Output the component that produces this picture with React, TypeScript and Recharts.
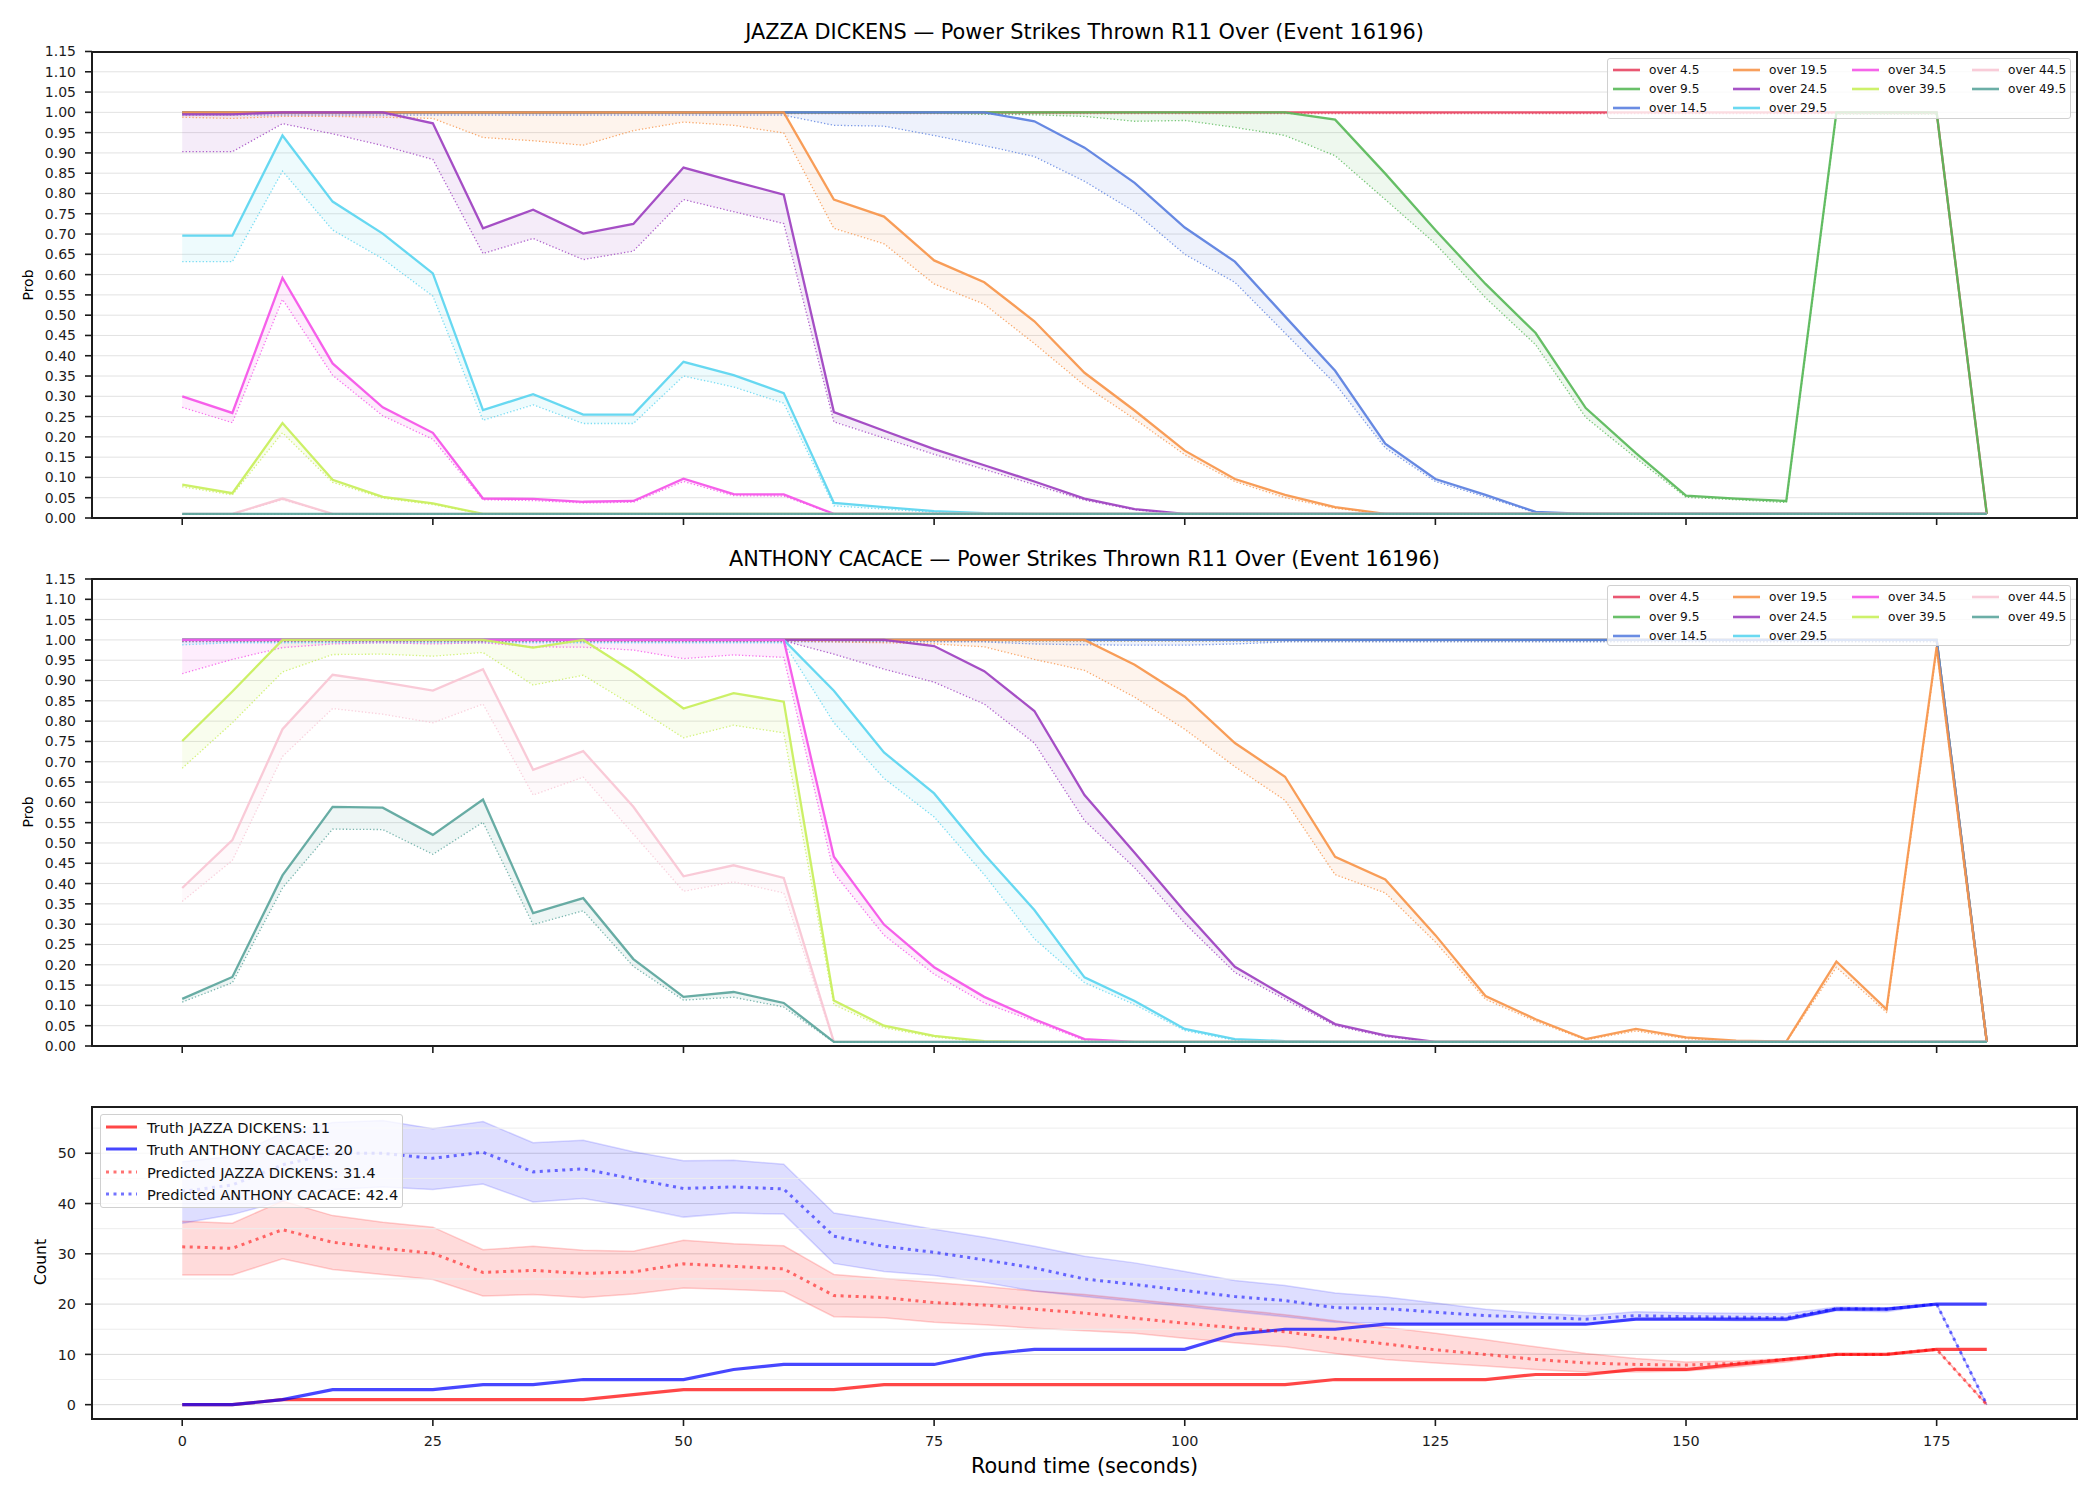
import React from "react";
import {
  ComposedChart,
  Line,
  Area,
  XAxis,
  YAxis,
  CartesianGrid,
  ReferenceLine,
} from "recharts";

const FONT = "'DejaVu Sans', 'Liberation Sans', sans-serif";

// round time in seconds, one sample every 5 s
const times = [
  0, 5, 10, 15, 20, 25, 30, 35, 40, 45,
  50, 55, 60, 65, 70, 75, 80, 85, 90, 95,
  100, 105, 110, 115, 120, 125, 130, 135, 140, 145,
  150, 155, 160, 165, 170, 175, 180,
];
const timeTicks = [0, 25, 50, 75, 100, 125, 150, 175];
const probTicks = [
  0, 0.05, 0.1, 0.15, 0.2, 0.25, 0.3, 0.35, 0.4, 0.45, 0.5, 0.55,
  0.6, 0.65, 0.7, 0.75, 0.8, 0.85, 0.9, 0.95, 1, 1.05, 1.1, 1.15,
];
const countTicks = [0, 10, 20, 30, 40, 50];
const countMinorTicks = [5, 15, 25, 35, 45, 55];

const lineLabels = [
  "over 4.5", "over 9.5", "over 14.5", "over 19.5", "over 24.5",
  "over 29.5", "over 34.5", "over 39.5", "over 44.5", "over 49.5",
];
const lineColors = [
  "#e84563", "#59b959", "#5a7fe0", "#f7954a", "#9d40c0",
  "#5ad5f0", "#f553e8", "#c8ef5a", "#f8c6d4", "#5ba59c",
];

// ---- JAZZA DICKENS: P(strikes > line), solid = estimate, Lo = lower curve
const dickensOver4_5 = [
  1, 1, 1, 1, 1, 1, 1, 1, 1, 1,
  1, 1, 1, 1, 1, 1, 1, 1, 1, 1,
  1, 1, 1, 1, 1, 1, 1, 1, 1, 1,
  1, 1, 1, 1, 1, 1, 0.01,
];
const dickensOver4_5Lo = [
  0.997, 0.997, 0.997, 0.997, 0.997, 0.997, 0.997, 0.997, 0.997, 0.997,
  0.997, 0.997, 0.997, 0.997, 0.997, 0.997, 0.997, 0.997, 0.997, 0.997,
  0.997, 0.997, 0.997, 0.997, 0.997, 0.997, 0.997, 0.997, 0.997, 0.997,
  0.997, 0.997, 0.997, 0.997, 0.997, 0.997, 0.01,
];
const dickensOver9_5 = [
  1, 1, 1, 1, 1, 1, 1, 1, 1, 1,
  1, 1, 1, 1, 1, 1, 1, 1, 1, 1,
  1, 1, 1, 0.982, 0.849, 0.71, 0.577, 0.456, 0.271, 0.16,
  0.055, 0.048, 0.042, 1, 1, 1, 0.01,
];
const dickensOver9_5Lo = [
  0.998, 0.998, 0.998, 0.998, 0.998, 0.998, 0.998, 0.998, 0.998, 0.998,
  0.998, 0.998, 0.998, 0.998, 0.998, 0.998, 0.995, 0.994, 0.99, 0.978,
  0.98, 0.963, 0.943, 0.893, 0.785, 0.676, 0.543, 0.427, 0.248, 0.148,
  0.051, 0.045, 0.038, 0.995, 0.995, 0.995, 0.01,
];
const dickensOver14_5 = [
  1, 1, 1, 1, 1, 1, 1, 1, 1, 1,
  1, 1, 1, 1, 1, 1, 1, 0.978, 0.913, 0.826,
  0.716, 0.632, 0.497, 0.363, 0.183, 0.096, 0.057, 0.015, 0.01, 0.01,
  0.01, 0.01, 0.01, 0.01, 0.01, 0.01, 0.01,
];
const dickensOver14_5Lo = [
  0.993, 0.993, 0.993, 0.993, 0.993, 0.993, 0.993, 0.993, 0.993, 0.993,
  0.993, 0.993, 0.993, 0.968, 0.966, 0.943, 0.918, 0.891, 0.83, 0.755,
  0.65, 0.581, 0.456, 0.331, 0.173, 0.09, 0.052, 0.013, 0.01, 0.01,
  0.01, 0.01, 0.01, 0.01, 0.01, 0.01, 0.01,
];
const dickensOver19_5 = [
  1, 1, 1, 1, 1, 1, 1, 1, 1, 1,
  1, 1, 1, 0.785, 0.743, 0.635, 0.581, 0.485, 0.358, 0.265,
  0.166, 0.096, 0.057, 0.027, 0.01, 0.01, 0.01, 0.01, 0.01, 0.01,
  0.01, 0.01, 0.01, 0.01, 0.01, 0.01, 0.01,
];
const dickensOver19_5Lo = [
  0.988, 0.985, 0.99, 0.99, 0.988, 0.985, 0.938, 0.93, 0.919, 0.955,
  0.976, 0.968, 0.949, 0.714, 0.676, 0.577, 0.527, 0.43, 0.327, 0.244,
  0.156, 0.09, 0.05, 0.024, 0.01, 0.01, 0.01, 0.01, 0.01, 0.01,
  0.01, 0.01, 0.01, 0.01, 0.01, 0.01, 0.01,
];
const dickensOver24_5 = [
  0.995, 0.995, 1, 1, 1, 0.973, 0.714, 0.76, 0.701, 0.725,
  0.864, 0.83, 0.797, 0.261, 0.215, 0.17, 0.13, 0.09, 0.048, 0.022,
  0.01, 0.01, 0.01, 0.01, 0.01, 0.01, 0.01, 0.01, 0.01, 0.01,
  0.01, 0.01, 0.01, 0.01, 0.01, 0.01, 0.01,
];
const dickensOver24_5Lo = [
  0.903, 0.903, 0.972, 0.947, 0.918, 0.884, 0.652, 0.689, 0.637, 0.658,
  0.785, 0.755, 0.726, 0.237, 0.197, 0.157, 0.12, 0.082, 0.044, 0.02,
  0.01, 0.01, 0.01, 0.01, 0.01, 0.01, 0.01, 0.01, 0.01, 0.01,
  0.01, 0.01, 0.01, 0.01, 0.01, 0.01, 0.01,
];
const dickensOver29_5 = [
  0.696, 0.696, 0.943, 0.78, 0.701, 0.603, 0.266, 0.305, 0.255, 0.255,
  0.385, 0.352, 0.308, 0.037, 0.027, 0.017, 0.012, 0.01, 0.01, 0.01,
  0.01, 0.01, 0.01, 0.01, 0.01, 0.01, 0.01, 0.01, 0.01, 0.01,
  0.01, 0.01, 0.01, 0.01, 0.01, 0.01, 0.01,
];
const dickensOver29_5Lo = [
  0.632, 0.632, 0.855, 0.71, 0.639, 0.547, 0.241, 0.279, 0.233, 0.233,
  0.35, 0.323, 0.283, 0.03, 0.022, 0.014, 0.01, 0.01, 0.01, 0.01,
  0.01, 0.01, 0.01, 0.01, 0.01, 0.01, 0.01, 0.01, 0.01, 0.01,
  0.01, 0.01, 0.01, 0.01, 0.01, 0.01, 0.01,
];
const dickensOver34_5 = [
  0.3, 0.259, 0.592, 0.381, 0.273, 0.21, 0.048, 0.047, 0.04, 0.042,
  0.097, 0.059, 0.058, 0.01, 0.01, 0.01, 0.01, 0.01, 0.01, 0.01,
  0.01, 0.01, 0.01, 0.01, 0.01, 0.01, 0.01, 0.01, 0.01, 0.01,
  0.01, 0.01, 0.01, 0.01, 0.01, 0.01, 0.01,
];
const dickensOver34_5Lo = [
  0.273, 0.235, 0.539, 0.352, 0.252, 0.194, 0.045, 0.043, 0.037, 0.039,
  0.09, 0.055, 0.054, 0.01, 0.01, 0.01, 0.01, 0.01, 0.01, 0.01,
  0.01, 0.01, 0.01, 0.01, 0.01, 0.01, 0.01, 0.01, 0.01, 0.01,
  0.01, 0.01, 0.01, 0.01, 0.01, 0.01, 0.01,
];
const dickensOver39_5 = [
  0.082, 0.061, 0.234, 0.094, 0.052, 0.036, 0.01, 0.01, 0.01, 0.01,
  0.01, 0.01, 0.01, 0.01, 0.01, 0.01, 0.01, 0.01, 0.01, 0.01,
  0.01, 0.01, 0.01, 0.01, 0.01, 0.01, 0.01, 0.01, 0.01, 0.01,
  0.01, 0.01, 0.01, 0.01, 0.01, 0.01, 0.01,
];
const dickensOver39_5Lo = [
  0.077, 0.057, 0.21, 0.088, 0.049, 0.033, 0.01, 0.01, 0.01, 0.01,
  0.01, 0.01, 0.01, 0.01, 0.01, 0.01, 0.01, 0.01, 0.01, 0.01,
  0.01, 0.01, 0.01, 0.01, 0.01, 0.01, 0.01, 0.01, 0.01, 0.01,
  0.01, 0.01, 0.01, 0.01, 0.01, 0.01, 0.01,
];
const dickensOver44_5 = [
  0.01, 0.01, 0.048, 0.01, 0.01, 0.01, 0.01, 0.01, 0.01, 0.01,
  0.01, 0.01, 0.01, 0.01, 0.01, 0.01, 0.01, 0.01, 0.01, 0.01,
  0.01, 0.01, 0.01, 0.01, 0.01, 0.01, 0.01, 0.01, 0.01, 0.01,
  0.01, 0.01, 0.01, 0.01, 0.01, 0.01, 0.01,
];
const dickensOver44_5Lo = [
  0.01, 0.01, 0.045, 0.01, 0.01, 0.01, 0.01, 0.01, 0.01, 0.01,
  0.01, 0.01, 0.01, 0.01, 0.01, 0.01, 0.01, 0.01, 0.01, 0.01,
  0.01, 0.01, 0.01, 0.01, 0.01, 0.01, 0.01, 0.01, 0.01, 0.01,
  0.01, 0.01, 0.01, 0.01, 0.01, 0.01, 0.01,
];
const dickensOver49_5 = [
  0.01, 0.01, 0.01, 0.01, 0.01, 0.01, 0.01, 0.01, 0.01, 0.01,
  0.01, 0.01, 0.01, 0.01, 0.01, 0.01, 0.01, 0.01, 0.01, 0.01,
  0.01, 0.01, 0.01, 0.01, 0.01, 0.01, 0.01, 0.01, 0.01, 0.01,
  0.01, 0.01, 0.01, 0.01, 0.01, 0.01, 0.01,
];
const dickensOver49_5Lo = [
  0.009, 0.009, 0.009, 0.009, 0.009, 0.009, 0.009, 0.009, 0.009, 0.009,
  0.009, 0.009, 0.009, 0.009, 0.009, 0.009, 0.009, 0.009, 0.009, 0.009,
  0.009, 0.009, 0.009, 0.009, 0.009, 0.009, 0.009, 0.009, 0.009, 0.009,
  0.009, 0.009, 0.009, 0.009, 0.009, 0.009, 0.009,
];

// ---- ANTHONY CACACE
const cacaceOver4_5 = [
  1, 1, 1, 1, 1, 1, 1, 1, 1, 1,
  1, 1, 1, 1, 1, 1, 1, 1, 1, 1,
  1, 1, 1, 1, 1, 1, 1, 1, 1, 1,
  1, 1, 1, 1, 1, 1, 0.01,
];
const cacaceOver4_5Lo = [
  0.998, 0.998, 0.998, 0.998, 0.998, 0.998, 0.998, 0.998, 0.998, 0.998,
  0.998, 0.998, 0.998, 0.998, 0.998, 0.998, 0.998, 0.998, 0.998, 0.998,
  0.998, 0.998, 0.998, 0.998, 0.998, 0.998, 0.998, 0.998, 0.998, 0.998,
  0.998, 0.998, 0.998, 0.998, 0.998, 0.998, 0.01,
];
const cacaceOver9_5 = [
  1, 1, 1, 1, 1, 1, 1, 1, 1, 1,
  1, 1, 1, 1, 1, 1, 1, 1, 1, 1,
  1, 1, 1, 1, 1, 1, 1, 1, 1, 1,
  1, 1, 1, 1, 1, 1, 0.01,
];
const cacaceOver9_5Lo = [
  0.998, 0.998, 0.998, 0.998, 0.998, 0.998, 0.998, 0.998, 0.998, 0.998,
  0.998, 0.998, 0.998, 0.998, 0.998, 0.998, 0.998, 0.998, 0.998, 0.998,
  0.998, 0.998, 0.998, 0.998, 0.998, 0.998, 0.998, 0.998, 0.998, 0.998,
  0.998, 0.998, 0.998, 0.998, 0.998, 0.998, 0.01,
];
const cacaceOver14_5 = [
  1, 1, 1, 1, 1, 1, 1, 1, 1, 1,
  1, 1, 1, 1, 1, 1, 1, 1, 1, 1,
  1, 1, 1, 1, 1, 1, 1, 1, 1, 1,
  1, 1, 1, 1, 1, 1, 0.01,
];
const cacaceOver14_5Lo = [
  0.995, 0.995, 0.995, 0.995, 0.995, 0.995, 0.995, 0.995, 0.995, 0.995,
  0.995, 0.995, 0.995, 0.995, 0.995, 0.995, 0.995, 0.99, 0.988, 0.987,
  0.987, 0.99, 0.995, 0.995, 0.995, 0.995, 0.995, 0.995, 0.995, 0.995,
  0.995, 0.995, 0.995, 0.995, 0.995, 0.995, 0.01,
];
const cacaceOver19_5 = [
  1, 1, 1, 1, 1, 1, 1, 1, 1, 1,
  1, 1, 1, 1, 1, 1, 1, 1, 1, 0.939,
  0.86, 0.746, 0.663, 0.466, 0.41, 0.273, 0.123, 0.066, 0.017, 0.042,
  0.021, 0.013, 0.011, 0.208, 0.09, 0.983, 0.01,
];
const cacaceOver19_5Lo = [
  0.998, 0.998, 0.998, 0.998, 0.998, 0.998, 0.998, 0.998, 0.998, 0.998,
  0.998, 0.998, 0.998, 0.995, 0.993, 0.99, 0.983, 0.952, 0.925, 0.859,
  0.78, 0.688, 0.605, 0.422, 0.377, 0.256, 0.115, 0.061, 0.015, 0.037,
  0.018, 0.012, 0.01, 0.194, 0.083, 0.975, 0.01,
];
const cacaceOver24_5 = [
  1, 1, 1, 1, 1, 1, 1, 1, 1, 1,
  1, 1, 1, 1, 1, 0.985, 0.923, 0.825, 0.618, 0.476,
  0.331, 0.195, 0.123, 0.054, 0.026, 0.01, 0.01, 0.01, 0.01, 0.01,
  0.01, 0.01, 0.01, 0.01, 0.01, 0.01, 0.01,
];
const cacaceOver24_5Lo = [
  0.998, 0.998, 0.998, 0.998, 0.998, 0.998, 0.998, 0.998, 0.998, 0.998,
  0.998, 0.998, 0.998, 0.965, 0.928, 0.896, 0.842, 0.746, 0.555, 0.439,
  0.302, 0.181, 0.115, 0.05, 0.023, 0.01, 0.01, 0.01, 0.01, 0.01,
  0.01, 0.01, 0.01, 0.01, 0.01, 0.01, 0.01,
];
const cacaceOver29_5 = [
  1, 1, 1, 1, 1, 1, 1, 1, 1, 1,
  1, 1, 1, 0.875, 0.723, 0.622, 0.472, 0.335, 0.169, 0.111,
  0.042, 0.017, 0.012, 0.01, 0.01, 0.01, 0.01, 0.01, 0.01, 0.01,
  0.01, 0.01, 0.01, 0.01, 0.01, 0.01, 0.01,
];
const cacaceOver29_5Lo = [
  0.988, 0.993, 0.993, 0.993, 0.993, 0.993, 0.993, 0.993, 0.993, 0.993,
  0.993, 0.993, 0.993, 0.796, 0.659, 0.564, 0.422, 0.264, 0.156, 0.102,
  0.038, 0.014, 0.01, 0.01, 0.01, 0.01, 0.01, 0.01, 0.01, 0.01,
  0.01, 0.01, 0.01, 0.01, 0.01, 0.01, 0.01,
];
const cacaceOver34_5 = [
  1, 1, 1, 1, 1, 1, 1, 1, 1, 1,
  1, 1, 1, 0.466, 0.299, 0.194, 0.121, 0.066, 0.017, 0.01,
  0.01, 0.01, 0.01, 0.01, 0.01, 0.01, 0.01, 0.01, 0.01, 0.01,
  0.01, 0.01, 0.01, 0.01, 0.01, 0.01, 0.01,
];
const cacaceOver34_5Lo = [
  0.917, 0.952, 0.981, 0.99, 0.993, 0.99, 0.993, 0.983, 0.982, 0.975,
  0.954, 0.963, 0.957, 0.426, 0.273, 0.177, 0.106, 0.061, 0.014, 0.01,
  0.01, 0.01, 0.01, 0.01, 0.01, 0.01, 0.01, 0.01, 0.01, 0.01,
  0.01, 0.01, 0.01, 0.01, 0.01, 0.01, 0.01,
];
const cacaceOver39_5 = [
  0.751, 0.873, 1, 1, 1, 1, 1, 0.981, 1, 0.921,
  0.831, 0.869, 0.848, 0.112, 0.05, 0.025, 0.012, 0.01, 0.01, 0.01,
  0.01, 0.01, 0.01, 0.01, 0.01, 0.01, 0.01, 0.01, 0.01, 0.01,
  0.01, 0.01, 0.01, 0.01, 0.01, 0.01, 0.01,
];
const cacaceOver39_5Lo = [
  0.684, 0.796, 0.921, 0.964, 0.965, 0.96, 0.969, 0.889, 0.913, 0.838,
  0.759, 0.79, 0.771, 0.102, 0.045, 0.022, 0.01, 0.01, 0.01, 0.01,
  0.01, 0.01, 0.01, 0.01, 0.01, 0.01, 0.01, 0.01, 0.01, 0.01,
  0.01, 0.01, 0.01, 0.01, 0.01, 0.01, 0.01,
];
const cacaceOver44_5 = [
  0.389, 0.507, 0.78, 0.914, 0.896, 0.875, 0.928, 0.68, 0.726, 0.589,
  0.418, 0.445, 0.414, 0.01, 0.01, 0.01, 0.01, 0.01, 0.01, 0.01,
  0.01, 0.01, 0.01, 0.01, 0.01, 0.01, 0.01, 0.01, 0.01, 0.01,
  0.01, 0.01, 0.01, 0.01, 0.01, 0.01, 0.01,
];
const cacaceOver44_5Lo = [
  0.356, 0.457, 0.713, 0.831, 0.817, 0.796, 0.842, 0.618, 0.662, 0.522,
  0.381, 0.404, 0.377, 0.01, 0.01, 0.01, 0.01, 0.01, 0.01, 0.01,
  0.01, 0.01, 0.01, 0.01, 0.01, 0.01, 0.01, 0.01, 0.01, 0.01,
  0.01, 0.01, 0.01, 0.01, 0.01, 0.01, 0.01,
];
const cacaceOver49_5 = [
  0.116, 0.17, 0.42, 0.589, 0.587, 0.52, 0.607, 0.327, 0.364, 0.214,
  0.121, 0.133, 0.106, 0.01, 0.01, 0.01, 0.01, 0.01, 0.01, 0.01,
  0.01, 0.01, 0.01, 0.01, 0.01, 0.01, 0.01, 0.01, 0.01, 0.01,
  0.01, 0.01, 0.01, 0.01, 0.01, 0.01, 0.01,
];
const cacaceOver49_5Lo = [
  0.108, 0.156, 0.389, 0.534, 0.533, 0.472, 0.551, 0.299, 0.333, 0.196,
  0.113, 0.12, 0.096, 0.009, 0.009, 0.009, 0.009, 0.009, 0.009, 0.009,
  0.009, 0.009, 0.009, 0.009, 0.009, 0.009, 0.009, 0.009, 0.009, 0.009,
  0.009, 0.009, 0.009, 0.009, 0.009, 0.009, 0.009,
];

// ---- counts
const truthDickens = [
  0, 0, 1, 1, 1, 1, 1, 1, 1, 2,
  3, 3, 3, 3, 4, 4, 4, 4, 4, 4,
  4, 4, 4, 5, 5, 5, 5, 6, 6, 7,
  7, 8, 9, 10, 10, 11, 11,
];
const truthCacace = [
  0, 0, 1, 3, 3, 3, 4, 4, 5, 5,
  5, 7, 8, 8, 8, 8, 10, 11, 11, 11,
  11, 14, 15, 15, 16, 16, 16, 16, 16, 17,
  17, 17, 17, 19, 19, 20, 20,
];
const predDickens = [
  31.4, 31.1, 34.8, 32.3, 31.1, 30.1, 26.3, 26.7, 26.1, 26.4,
  28, 27.5, 27, 21.7, 21.3, 20.3, 19.8, 19, 18.2, 17.2,
  16.2, 15.3, 14.5, 13.2, 12.1, 10.9, 10, 9, 8.3, 8,
  7.9, 8.2, 9, 10, 10, 11, 0,
];
const predDickensHi = [
  36.5, 36.1, 40.5, 37.6, 36.3, 35.3, 30.8, 31.5, 30.7, 30.5,
  32.7, 32, 31.6, 25.9, 25.1, 24.3, 23.5, 22.6, 21.9, 20.9,
  19.9, 18.9, 17.9, 16.7, 15.4, 14.2, 12.9, 11.5, 10.2, 9.2,
  8.5, 8.7, 9.2, 10, 10, 11, 0,
];
const predDickensLo = [
  25.8, 25.8, 29, 26.9, 25.9, 24.9, 21.6, 21.9, 21.3, 22,
  23.2, 22.9, 22.5, 17.5, 17.3, 16.4, 15.9, 15.2, 14.7, 14.2,
  13.2, 12.3, 11.5, 10.2, 9, 8.3, 7.7, 7, 6.5, 6.5,
  6.7, 7.5, 8.5, 9.9, 10, 11, 0,
];
const predCacace = [
  42.4, 43.7, 47.7, 50, 50, 49, 50.2, 46.3, 46.9, 44.9,
  43, 43.3, 42.9, 33.5, 31.5, 30.3, 28.8, 27.2, 25, 23.9,
  22.7, 21.5, 20.7, 19.3, 19.1, 18.4, 17.7, 17.4, 17, 17.7,
  17.5, 17.4, 17.3, 19.1, 19, 20, 0,
];
const predCacaceHi = [
  48.3, 49.4, 54, 56.1, 56.5, 54.9, 56.3, 52.1, 52.6, 50.3,
  48.5, 48.6, 47.8, 38.1, 36.6, 34.9, 33.3, 31.5, 29.5, 28.2,
  26.5, 24.7, 23.7, 22.2, 21.4, 20.2, 19, 18.2, 17.7, 18.5,
  18.3, 18.2, 18.1, 19.4, 19.3, 20, 0,
];
const predCacaceLo = [
  36.1, 37.8, 40.5, 42.8, 43.3, 42.8, 43.9, 40.3, 41, 39.3,
  37.3, 38.1, 37.9, 28.1, 26.5, 25.7, 24.3, 22.6, 21.5, 20.5,
  19.5, 18.5, 17.5, 16.4, 16.2, 16, 16, 16, 16, 16.9,
  16.9, 16.7, 16.7, 18.7, 18.5, 20, 0,
];

const dickensMid = [
  dickensOver4_5, dickensOver9_5, dickensOver14_5, dickensOver19_5, dickensOver24_5,
  dickensOver29_5, dickensOver34_5, dickensOver39_5, dickensOver44_5, dickensOver49_5,
];
const dickensLow = [
  dickensOver4_5Lo, dickensOver9_5Lo, dickensOver14_5Lo, dickensOver19_5Lo, dickensOver24_5Lo,
  dickensOver29_5Lo, dickensOver34_5Lo, dickensOver39_5Lo, dickensOver44_5Lo, dickensOver49_5Lo,
];
const cacaceMid = [
  cacaceOver4_5, cacaceOver9_5, cacaceOver14_5, cacaceOver19_5, cacaceOver24_5,
  cacaceOver29_5, cacaceOver34_5, cacaceOver39_5, cacaceOver44_5, cacaceOver49_5,
];
const cacaceLow = [
  cacaceOver4_5Lo, cacaceOver9_5Lo, cacaceOver14_5Lo, cacaceOver19_5Lo, cacaceOver24_5Lo,
  cacaceOver29_5Lo, cacaceOver34_5Lo, cacaceOver39_5Lo, cacaceOver44_5Lo, cacaceOver49_5Lo,
];

function buildProbRows(mid: number[][], low: number[][]) {
  return times.map((t, i) => {
    const row: Record<string, number> = { t };
    mid.forEach((arr, k) => {
      row[`m${k}`] = arr[i];
      row[`l${k}`] = low[k][i];
    });
    return row;
  });
}

const dickensRows = buildProbRows(dickensMid, dickensLow);
const cacaceRows = buildProbRows(cacaceMid, cacaceLow);
const countRows = times.map((t, i) => ({
  t,
  truthD: truthDickens[i],
  truthC: truthCacace[i],
  predD: predDickens[i],
  predC: predCacace[i],
  bandD: [predDickensLo[i], predDickensHi[i]],
  bandC: [predCacaceLo[i], predCacaceHi[i]],
}));

const PLOT_LEFT = 92;
const PLOT_RIGHT = 2077;
const INK = "#1c1c1c";
const tickStyle = { fill: INK, fontSize: 14, fontFamily: FONT };

function Frame({ top, bottom }: { top: number; bottom: number }) {
  return (
    <div
      style={{
        position: "absolute",
        left: PLOT_LEFT - 1,
        top: top - 1,
        width: PLOT_RIGHT - PLOT_LEFT + 2,
        height: bottom - top + 2,
        border: `2px solid ${INK}`,
        boxSizing: "border-box",
        pointerEvents: "none",
      }}
    />
  );
}

function Title({ text, cy }: { text: string; cy: number }) {
  return (
    <div
      style={{
        position: "absolute",
        left: PLOT_LEFT,
        width: PLOT_RIGHT - PLOT_LEFT,
        top: cy - 13,
        height: 26,
        lineHeight: "26px",
        textAlign: "center",
        fontSize: 20.8,
        color: "#000",
        whiteSpace: "nowrap",
      }}
    >
      {text}
    </div>
  );
}

function AxisLabel({ text, cx, cy, size }: { text: string; cx: number; cy: number; size: number }) {
  return (
    <div
      style={{
        position: "absolute",
        left: cx,
        top: cy,
        transform: "translate(-50%, -50%) rotate(-90deg)",
        fontSize: size,
        whiteSpace: "nowrap",
        color: "#000",
      }}
    >
      {text}
    </div>
  );
}

function Sample({ color, width, dash, opacity, w }: { color: string; width: number; dash?: string; opacity: number; w: number }) {
  return (
    <svg width={w} height={8} style={{ display: "block" }}>
      <line x1={0} x2={w} y1={4} y2={4} stroke={color} strokeWidth={width} strokeDasharray={dash} strokeOpacity={opacity} />
    </svg>
  );
}

// four-column threshold legend, filled column by column
function ThresholdLegend({ top }: { top: number }) {
  const colX = [5, 125, 244, 364];
  const rowY = [11.3, 30.7, 49.7];
  const slots = [
    [0, 0], [0, 1], [0, 2], [1, 0], [1, 1], [1, 2], [2, 0], [2, 1], [3, 0], [3, 1],
  ];
  return (
    <div
      style={{
        position: "absolute",
        left: 1607,
        top,
        width: 464,
        height: 61,
        background: "rgba(255,255,255,0.8)",
        border: "1.5px solid #d0d0d0",
        borderRadius: 3,
        boxSizing: "border-box",
      }}
    >
      {lineLabels.map((label, k) => {
        const [c, r] = slots[k];
        return (
          <div
            key={label}
            style={{
              position: "absolute",
              left: colX[c],
              top: rowY[r] - 9,
              height: 18,
              display: "flex",
              alignItems: "center",
              fontSize: 12.2,
              whiteSpace: "nowrap",
              color: "#111",
            }}
          >
            <Sample color={lineColors[k]} width={2.6} opacity={0.9} w={27} />
            <span style={{ marginLeft: 9 }}>{label}</span>
          </div>
        );
      })}
    </div>
  );
}

const countLegend = [
  { label: "Truth JAZZA DICKENS: 11", color: "#ff0000", dash: undefined, opacity: 0.72 },
  { label: "Truth ANTHONY CACACE: 20", color: "#0000ff", dash: undefined, opacity: 0.72 },
  { label: "Predicted JAZZA DICKENS: 31.4", color: "#ff0000", dash: "3 4.5", opacity: 0.55 },
  { label: "Predicted ANTHONY CACACE: 42.4", color: "#0000ff", dash: "3 4.5", opacity: 0.55 },
];

function CountLegend() {
  const rowY = [12, 34.3, 57, 79.3];
  return (
    <div
      style={{
        position: "absolute",
        left: 100,
        top: 1114,
        width: 303,
        height: 94,
        background: "rgba(255,255,255,0.8)",
        border: "1.5px solid #d0d0d0",
        borderRadius: 3,
        boxSizing: "border-box",
      }}
    >
      {countLegend.map((e, k) => (
        <div
          key={e.label}
          style={{
            position: "absolute",
            left: 5,
            top: rowY[k] - 10,
            height: 20,
            display: "flex",
            alignItems: "center",
            fontSize: 14.6,
            whiteSpace: "nowrap",
            color: "#111",
          }}
        >
          <Sample color={e.color} width={3} dash={e.dash} opacity={e.opacity} w={31} />
          <span style={{ marginLeft: 10 }}>{e.label}</span>
        </div>
      ))}
    </div>
  );
}

function ProbPanel({
  rows,
  top,
  height,
  plotTop,
  axisHeight,
}: {
  rows: Record<string, number>[];
  top: number;
  height: number;
  plotTop: number;
  axisHeight: number;
}) {
  return (
    <div style={{ position: "absolute", left: 0, top, width: 2100, height }}>
      <ComposedChart
        width={2100}
        height={height}
        data={rows}
        margin={{ top: plotTop, right: 2100 - PLOT_RIGHT, bottom: 0, left: 0 }}
      >
        <CartesianGrid vertical={false} stroke="#e2e2e2" strokeWidth={1} />
        <XAxis
          dataKey="t"
          type="number"
          domain={[-9, 189]}
          ticks={timeTicks}
          interval={0}
          height={axisHeight}
          axisLine={false}
          tickLine={{ stroke: INK, strokeWidth: 1.6 }}
          tickSize={7}
          tickFormatter={() => ""}
        />
        <YAxis
          type="number"
          domain={[0, 1.15]}
          ticks={probTicks}
          interval={0}
          width={PLOT_LEFT}
          axisLine={false}
          tickLine={{ stroke: INK, strokeWidth: 1.6 }}
          tickSize={7}
          tickMargin={9}
          tick={tickStyle}
          tickFormatter={(v: number) => v.toFixed(2)}
        />
        {lineColors.map((c, k) => (
          <Area
            key={`band${k}`}
            type="linear"
            dataKey={(d: Record<string, number>) => [d[`l${k}`], d[`m${k}`]]}
            stroke="none"
            fill={c}
            fillOpacity={0.1}
            dot={false}
            activeDot={false}
            isAnimationActive={false}
          />
        ))}
        {lineColors.flatMap((c, k) => [
          <Line
            key={`mid${k}`}
            type="linear"
            dataKey={`m${k}`}
            stroke={c}
            strokeOpacity={0.92}
            strokeWidth={2.3}
            dot={false}
            activeDot={false}
            isAnimationActive={false}
          />,
          <Line
            key={`low${k}`}
            type="linear"
            dataKey={`l${k}`}
            stroke={c}
            strokeOpacity={0.8}
            strokeWidth={1.3}
            strokeDasharray="1.3 2.1"
            dot={false}
            activeDot={false}
            isAnimationActive={false}
          />,
        ])}
      </ComposedChart>
    </div>
  );
}

function CountPanel() {
  const top = 1070;
  const height = 430;
  return (
    <div style={{ position: "absolute", left: 0, top, width: 2100, height }}>
      <ComposedChart
        width={2100}
        height={height}
        data={countRows}
        margin={{ top: 36.5, right: 2100 - PLOT_RIGHT, bottom: 0, left: 0 }}
      >
        <CartesianGrid vertical={false} stroke="#dadada" strokeWidth={1} />
        {countMinorTicks.map((v) => (
          <ReferenceLine key={`minor${v}`} y={v} stroke="#ededed" strokeWidth={1} />
        ))}
        <XAxis
          dataKey="t"
          type="number"
          domain={[-9, 189]}
          ticks={timeTicks}
          interval={0}
          height={81}
          axisLine={false}
          tickLine={{ stroke: INK, strokeWidth: 1.6 }}
          tickSize={7}
          tickMargin={10}
          tick={{ ...tickStyle, fontSize: 14.4 }}
        />
        <YAxis
          type="number"
          domain={[-2.85, 59.3]}
          ticks={countTicks}
          interval={0}
          width={PLOT_LEFT}
          axisLine={false}
          tickLine={{ stroke: INK, strokeWidth: 1.6 }}
          tickSize={7}
          tickMargin={9}
          tick={{ ...tickStyle, fontSize: 14.4 }}
        />
        <Area
          type="linear"
          dataKey="bandD"
          stroke="#ff0000"
          strokeOpacity={0.18}
          strokeWidth={1.5}
          fill="#ff0000"
          fillOpacity={0.14}
          dot={false}
          activeDot={false}
          isAnimationActive={false}
        />
        <Area
          type="linear"
          dataKey="bandC"
          stroke="#0000ff"
          strokeOpacity={0.15}
          strokeWidth={1.5}
          fill="#0000ff"
          fillOpacity={0.13}
          dot={false}
          activeDot={false}
          isAnimationActive={false}
        />
        <Line type="linear" dataKey="truthD" stroke="#ff0000" strokeOpacity={0.72} strokeWidth={3.2} dot={false} activeDot={false} isAnimationActive={false} />
        <Line type="linear" dataKey="truthC" stroke="#0000ff" strokeOpacity={0.72} strokeWidth={3.2} dot={false} activeDot={false} isAnimationActive={false} />
        <Line type="linear" dataKey="predD" stroke="#ff0000" strokeOpacity={0.55} strokeWidth={3} strokeDasharray="3 4.5" dot={false} activeDot={false} isAnimationActive={false} />
        <Line type="linear" dataKey="predC" stroke="#0000ff" strokeOpacity={0.55} strokeWidth={3} strokeDasharray="3 4.5" dot={false} activeDot={false} isAnimationActive={false} />
      </ComposedChart>
    </div>
  );
}

export default function App() {
  return (
    <div
      style={{
        position: "absolute",
        left: 0,
        top: 0,
        width: 2100,
        height: 1500,
        background: "#ffffff",
        fontFamily: FONT,
        overflow: "hidden",
      }}
    >
      <ProbPanel rows={dickensRows} top={0} height={540} plotTop={51.5} axisHeight={22} />
      <ProbPanel rows={cacaceRows} top={540} height={530} plotTop={39} axisHeight={24} />
      <CountPanel />

      <Frame top={51.5} bottom={518} />
      <Frame top={579} bottom={1046} />
      <Frame top={1106.5} bottom={1419} />

      <Title text="JAZZA DICKENS — Power Strikes Thrown R11 Over (Event 16196)" cy={32} />
      <Title text="ANTHONY CACACE — Power Strikes Thrown R11 Over (Event 16196)" cy={559} />

      <AxisLabel text="Prob" cx={28} cy={285} size={14} />
      <AxisLabel text="Prob" cx={28} cy={812} size={14} />
      <AxisLabel text="Count" cx={41} cy={1262} size={15.5} />

      <div
        style={{
          position: "absolute",
          left: PLOT_LEFT,
          width: PLOT_RIGHT - PLOT_LEFT,
          top: 1466 - 13,
          height: 26,
          lineHeight: "26px",
          textAlign: "center",
          fontSize: 20.8,
          color: "#000",
        }}
      >
        Round time (seconds)
      </div>

      <ThresholdLegend top={57.5} />
      <ThresholdLegend top={585} />
      <CountLegend />
    </div>
  );
}
